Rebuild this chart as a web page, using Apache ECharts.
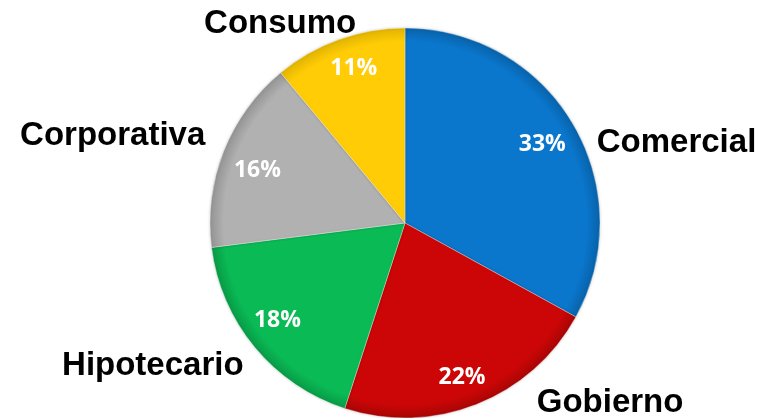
<!DOCTYPE html>
<html>
<head>
<meta charset="utf-8">
<script src="https://cdn.jsdelivr.net/npm/echarts@6/dist/echarts.min.js"></script>
<style>
  html, body { margin: 0; padding: 0; background: #fff; }
  #chart { width: 774px; height: 418px; }
</style>
</head>
<body>
<div id="chart"></div>
<script>
// categorias y porcentajes
const categories = ['Comercial', 'Gobierno', 'Hipotecario', 'Corporativa', 'Consumo'];
const values = [33, 22, 18, 16, 11];

// colores base / borde oscuro
const baseColors = ['#0a77cd', '#cc0606', '#0abb55', '#b1b1b1', '#ffcc05'];
const rimColors = ['#0862aa', '#a80505', '#089a46', '#939393', '#e0b300'];

const CX = 405, CY = 223, R = 195;

// desplazamiento de las etiquetas externas / internas
const labelShift = [
    [12, 23], [52, 2], [0, 14], [-6, -12], [25, -8]
];
const pctShift = [
    [-3, 4], [-3, 3], [-2, -6], [4, 7], [4, -1]
];

const _fill = (i) => ({
    type: 'radial',
    x: CX, y: CY, r: R,
    global: true,
    colorStops: [
        { offset: 0, color: baseColors[i] },
        { offset: 0.93, color: baseColors[i] },
        { offset: 1, color: rimColors[i] }
    ]
});

let chart = echarts.init(document.getElementById('chart'));

chart.setOption({
    animation: false,
    series: [{
        type: 'pie',
        center: [CX, CY],
        radius: R,
        startAngle: 90,
        clockwise: true,
        data: categories.map((name, i) => ({
            name: name,
            value: values[i],
            itemStyle: { color: _fill(i) }
        })),
        itemStyle: {
            borderColor: 'rgba(255,255,255,0.35)',
            borderWidth: 1,
            shadowBlur: 3,
            shadowColor: 'rgba(0,0,0,0.2)'
        },
        label: {
            show: true,
            position: 'outside',
            formatter: '{b}',
            color: '#000',
            fontFamily: 'Liberation Sans',
            fontWeight: 'bold',
            fontSize: 33
        },
        labelLine: { show: false, length: 8, length2: 0 },
        labelLayout: (p) => ({ dx: labelShift[p.dataIndex][0], dy: labelShift[p.dataIndex][1] })
    }, {
        type: 'pie',
        center: [CX, CY],
        radius: [125, R],
        startAngle: 90,
        silent: true,
        data: categories.map((name, i) => ({ name: name, value: values[i] })),
        itemStyle: { color: 'transparent' },
        label: {
            show: true,
            position: 'inside',
            formatter: (p) => p.value + '%',
            color: '#fff',
            fontFamily: 'Open Sans',
            fontWeight: 'bold',
            fontSize: 23
        },
        labelLine: { show: false },
        labelLayout: (p) => ({ dx: pctShift[p.dataIndex][0], dy: pctShift[p.dataIndex][1] })
    }]
});
</script>
</body>
</html>
